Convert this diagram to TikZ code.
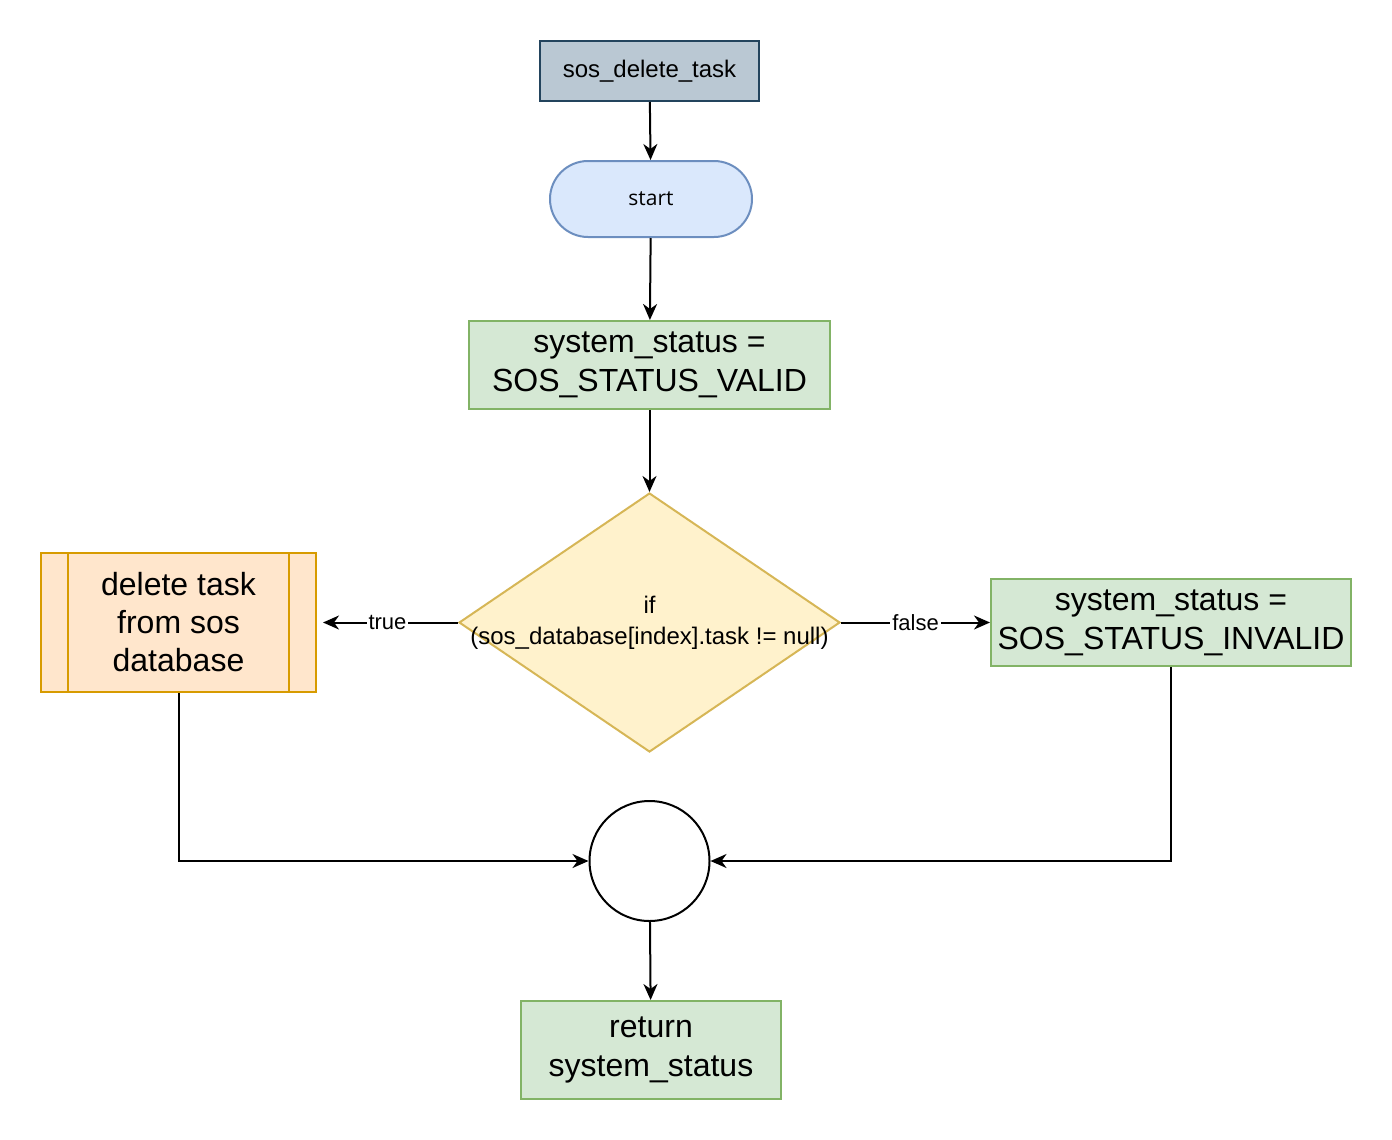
\documentclass[tikz,border=0pt]{standalone}
\usepackage{fontspec}
\setmainfont{Liberation Sans}
\newfontfamily\startfont{Open Sans}
\usetikzlibrary{shapes.geometric,arrows.meta}
\definecolor{taskfill}{HTML}{BAC8D3}
\definecolor{taskline}{HTML}{23445D}
\definecolor{startfill}{HTML}{DAE8FC}
\definecolor{startline}{HTML}{6C8EBF}
\definecolor{setfill}{HTML}{D5E8D4}
\definecolor{setline}{HTML}{82B366}
\definecolor{condfill}{HTML}{FFF2CC}
\definecolor{condline}{HTML}{D6B656}
\definecolor{delfill}{HTML}{FFE6CC}
\definecolor{delline}{HTML}{D79B00}

\begin{document}
\begin{tikzpicture}[x=0.5pt, y=-0.5pt, line width=1pt,
  >={Stealth[length=8pt,width=7pt,inset=2.5pt]},
  box/.style={draw, rectangle, inner sep=0pt, align=center, font=\fontsize{16}{19.5}\selectfont},
  setbox/.style={box, draw=setline, fill=setfill},
  edgelabel/.style={fill=white, inner sep=1pt, font=\fontsize{11}{13}\selectfont}]
 \useasboundingbox (0,0) rectangle (1392,1140);
 \node (task) [box, draw=taskline, fill=taskfill, minimum width=109.5pt, minimum height=30pt, font=\fontsize{12}{14}\selectfont] at (649.5,71) {sos\_delete\_task};
 \node (start) [box, draw=startline, fill=startfill, rounded corners=19pt, minimum width=101pt, minimum height=38pt, font=\startfont\fontsize{10.5}{12}\selectfont] at (651,199) {start};
 \node (valid) [setbox, minimum width=180.5pt, minimum height=44pt] at (649.5,365) {system\_status =\\SOS\_STATUS\_VALID};
 \node (cond) [draw=condline, fill=condfill, diamond, inner sep=0pt, minimum width=190.5pt, minimum height=129.5pt, font=\fontsize{12}{15.5}\selectfont] at (649.5,622.5)
   {\makebox[0pt]{\begin{tabular}{@{}c@{}}if\\(sos\_database[index].task != null)\end{tabular}}};
 \node (del) [box, draw=delline, fill=delfill, minimum width=137.5pt, minimum height=69.5pt, font=\fontsize{16}{19}\selectfont] at (178.5,622.5) {delete task\\from sos\\database};
 \draw [delline] ([xshift=14pt]del.north west) -- ([xshift=14pt]del.south west);
 \draw [delline] ([xshift=-14pt]del.north east) -- ([xshift=-14pt]del.south east);
 \node (inv) [setbox, minimum width=180pt, minimum height=43.5pt] at (1171,622.5) {system\_status =\\SOS\_STATUS\_INVALID};
 \node (merge) [draw, circle, inner sep=0pt, minimum size=60pt] at (649.5,861) {};
 \node (ret) [setbox, minimum width=130pt, minimum height=49pt] at (651,1050) {return\\system\_status};
 \draw [->] (task) -- (start);
 \draw [->] (start) -- (valid);
 \draw [->] (valid) -- (cond);
 \draw [->, shorten >=3pt] (cond.west) -- node [edgelabel] {true} (del.east);
 \draw [->] (cond.east) -- node [edgelabel] {false} (inv.west);
 \draw [->] (del.south) |- (merge.west);
 \draw [->] (inv.south) |- (merge.east);
 \draw [->] (merge) -- (ret);
\end{tikzpicture}
\end{document}
